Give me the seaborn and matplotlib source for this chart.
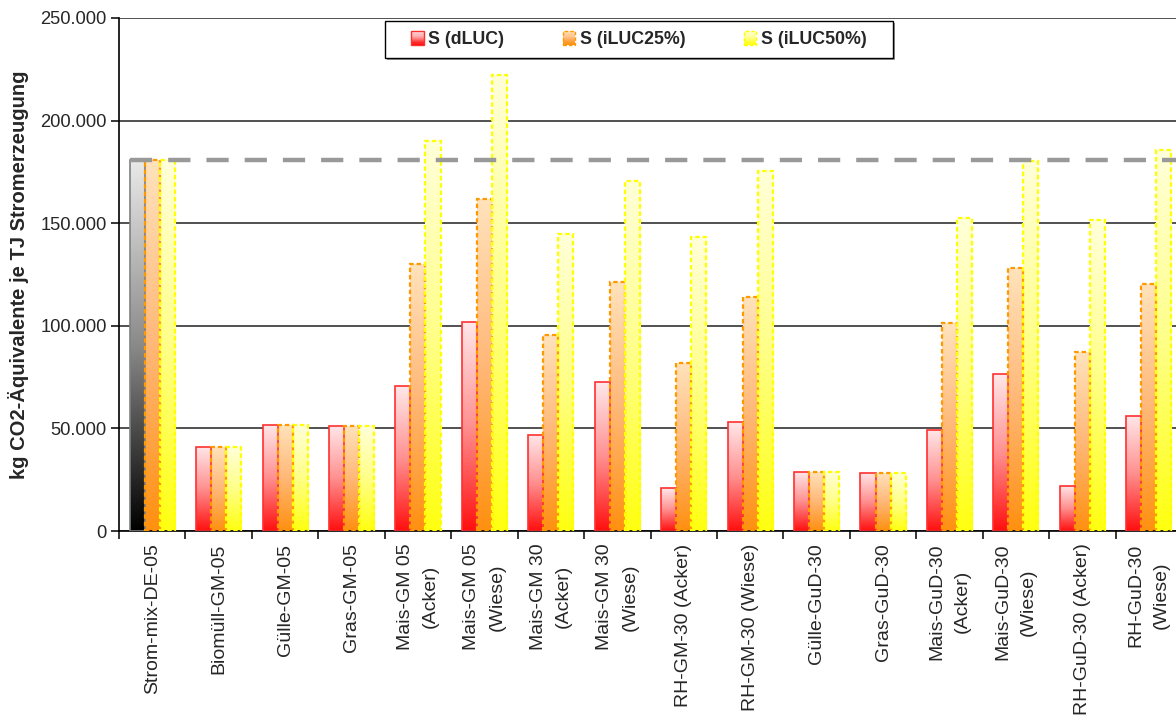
import numpy as np
import pandas as pd
import matplotlib
matplotlib.use("Agg")
import matplotlib.pyplot as plt
import seaborn as sns
from matplotlib.colors import LinearSegmentedColormap
from matplotlib.patches import Rectangle, Patch
from matplotlib.legend_handler import HandlerBase
from matplotlib.ticker import FuncFormatter, MultipleLocator

# --- data -------------------------------------------------------------
anlagen = [
    "Strom-mix-DE-05", "Biomüll-GM-05", "Gülle-GM-05", "Gras-GM-05",
    "Mais-GM 05\n(Acker)", "Mais-GM 05\n(Wiese)", "Mais-GM 30\n(Acker)",
    "Mais-GM 30\n(Wiese)", "RH-GM-30 (Acker)", "RH-GM-30 (Wiese)",
    "Gülle-GuD-30", "Gras-GuD-30", "Mais-GuD-30\n(Acker)",
    "Mais-GuD-30\n(Wiese)", "RH-GuD-30 (Acker)", "RH-GuD-30\n(Wiese)",
]
szenarien = ["S (dLUC)", "S (iLUC25%)", "S (iLUC50%)"]

s_dluc = [180800, 41000, 51700, 51200, 70600, 101900, 46800, 72400,
          20800, 52900, 28800, 28400, 49300, 76500, 22100, 56100]
s_iluc25 = [180800, 41000, 51700, 51200, 130300, 162000, 95600, 121500,
            82000, 114100, 28800, 28400, 101200, 128400, 87000, 120600]
s_iluc50 = [180800, 41000, 51700, 51200, 190300, 222000, 144800, 170800,
            143500, 175600, 28800, 28400, 152700, 180300, 151400, 185500]

# reference level: German electricity mix
strommix_ref = s_dluc[0]

ylabel = "kg CO2-Äquivalente je TJ Stromerzeugung"

df = pd.DataFrame({
    "Anlage": anlagen * 3,
    "Szenario": [s for s in szenarien for _ in anlagen],
    "Wert": s_dluc + s_iluc25 + s_iluc50,
})

# --- style --------------------------------------------------------------
sns.set_theme(style="white")
plt.rcParams["font.family"] = ["Liberation Sans", "DejaVu Sans"]

# gradient fills (bottom colour -> top colour)
cmaps = {
    "S (dLUC)": LinearSegmentedColormap.from_list("dluc", ["#FF0F0F", "#FF9090", "#FFE8EA"]),
    "S (iLUC25%)": LinearSegmentedColormap.from_list("il25", ["#FF9010", "#FFB878", "#FFE3BC"]),
    "S (iLUC50%)": LinearSegmentedColormap.from_list("il50", ["#FFFF10", "#FFFF88", "#FFFFDA"]),
}
cmap_mix = LinearSegmentedColormap.from_list("mix", ["#000000", "#8A8A8A", "#EAEAEA"])
edges = {
    "S (dLUC)": dict(edgecolor="#FF3030", linestyle="-", linewidth=1.2),
    "S (iLUC25%)": dict(edgecolor="#FF9900", linestyle=(0, (2, 1.3)), linewidth=1.6),
    "S (iLUC50%)": dict(edgecolor="#FFFF00", linestyle=(0, (2, 1.3)), linewidth=1.6),
}
palette = {s: cmaps[s](0.5) for s in szenarien}

fig = plt.figure(figsize=(11.76, 7.17), dpi=100)
ax = fig.add_axes([119 / 1176, 1 - 531 / 717, 1063 / 1176, 513 / 717])

sns.barplot(data=df, x="Anlage", y="Wert", hue="Szenario", order=anlagen,
            hue_order=szenarien, palette=palette, width=0.68, saturation=1,
            errorbar=None, legend=False, ax=ax, zorder=3)

grad = np.linspace(0, 1, 256).reshape(-1, 1)
for s, cont in zip(szenarien, ax.containers):
    for j, bar in enumerate(cont):
        x, w, h = bar.get_x(), bar.get_width(), bar.get_height()
        cm = cmap_mix if (s == "S (dLUC)" and j == 0) else cmaps[s]
        im = ax.imshow(grad, cmap=cm, origin="lower", aspect="auto",
                       extent=[x, x + w, 0, h], zorder=2.5,
                       interpolation="bilinear")
        im.set_clip_path(bar)
        bar.set_facecolor("none")
        st = dict(edges[s])
        if s == "S (dLUC)" and j == 0:
            st["edgecolor"] = "#808080"
        bar.set(**st)
        bar.set_zorder(3)

ax.set_xlim(-0.5, len(anlagen) - 0.5)
ax.set_ylim(0, 250000)

# reference line of the electricity mix
x0 = ax.containers[0][0].get_x()
ax.axhline(strommix_ref, xmin=(x0 + 0.5) / len(anlagen), xmax=1,
           color="#999999", linewidth=3.2, linestyle=(0, (5, 3.6)), zorder=4)

# grid & axes
ax.yaxis.set_major_locator(MultipleLocator(50000))
ax.yaxis.set_major_formatter(FuncFormatter(lambda v, p: f"{v:,.0f}".replace(",", ".")))
ax.grid(axis="y", color="#333333", linewidth=1.2, zorder=1)
ax.set_axisbelow(True)
for side in ("top", "right"):
    ax.spines[side].set_visible(False)
for side in ("left", "bottom"):
    ax.spines[side].set_color("black")
    ax.spines[side].set_linewidth(1.2)

ax.set_xticks(np.arange(-0.5, len(anlagen), 1))
ax.set_xticklabels([])
ax.set_xticks(np.arange(len(anlagen)), minor=True)
ax.set_xticklabels(anlagen, minor=True, rotation=90, ha="center", va="top",
                   multialignment="center", fontsize=14, linespacing=1.65)
ax.tick_params(axis="x", which="major", direction="out", length=6, width=1.1,
               color="black", bottom=True)
ax.tick_params(axis="x", which="minor", length=0, pad=9, bottom=True)
ax.tick_params(axis="y", direction="out", length=6, width=1.1, color="black",
               left=True, labelsize=13.2, pad=3)
ax.set_xlabel("")
ax.set_ylabel(ylabel, fontsize=14.5, fontweight="bold", labelpad=8)


# legend with gradient swatches
class GradientHandler(HandlerBase):
    def __init__(self, cmap, style):
        super().__init__()
        self.cmap, self.style = cmap, style

    def create_artists(self, legend, orig_handle, xdescent, ydescent,
                       width, height, fontsize, trans):
        n = 12
        arts = []
        for i in range(n):
            arts.append(Rectangle((-xdescent, -ydescent + i * height / n),
                                  width, height / n + 0.3,
                                  facecolor=self.cmap(i / (n - 1)),
                                  edgecolor="none", transform=trans))
        st = dict(self.style)
        st["linewidth"] = 1.0
        if st["linestyle"] != "-":
            st["linestyle"] = (0, (2.5, 1.5))
        arts.append(Rectangle((-xdescent, -ydescent), width, height,
                              facecolor="none", transform=trans, **st))
        return arts


handles = [Patch(label=s) for s in szenarien]
hmap = {h: GradientHandler(cmaps[s], edges[s]) for h, s in zip(handles, szenarien)}

ax.add_patch(Rectangle((0.252, 0.918), 0.478, 0.072, transform=ax.transAxes,
                       facecolor="#9a9a9a", edgecolor="none", zorder=4.8,
                       clip_on=False))
ax.add_patch(Rectangle((0.250, 0.922), 0.478, 0.072, transform=ax.transAxes,
                       facecolor="white", edgecolor="black", linewidth=1.0,
                       zorder=4.9, clip_on=False))
leg = ax.legend(handles=handles, labels=szenarien, handler_map=hmap,
                loc="center", bbox_to_anchor=(0.489, 0.958), ncol=3,
                frameon=False, columnspacing=3.3, handlelength=0.7,
                handleheight=0.8, handletextpad=0.25,
                prop=dict(weight="bold", size=12.8))
leg.set_zorder(6)

fig.savefig("out.png", dpi=100)
